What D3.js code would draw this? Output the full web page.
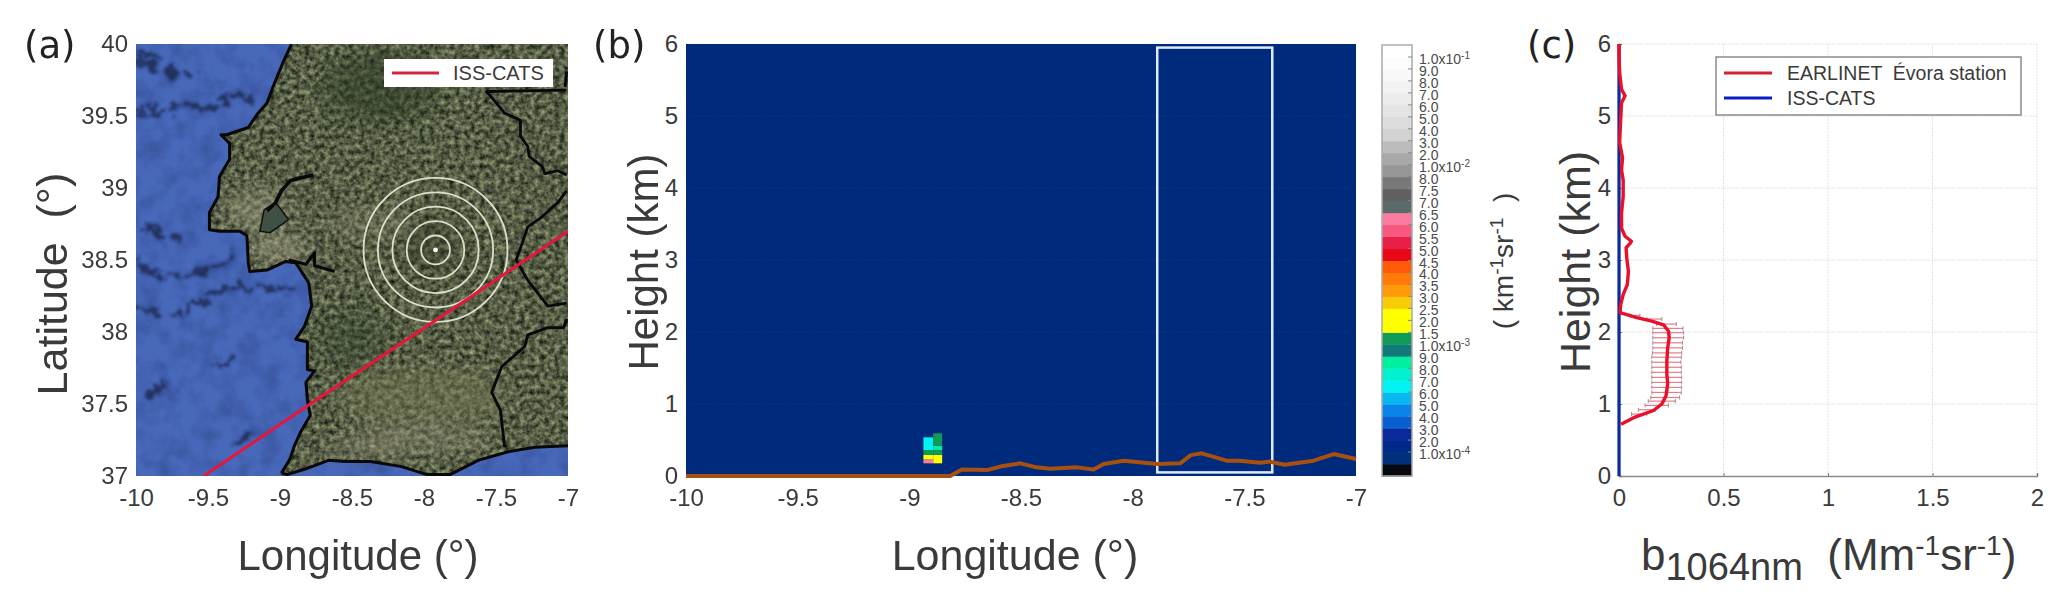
<!DOCTYPE html>
<html><head><meta charset="utf-8">
<script src="https://cdn.jsdelivr.net/npm/d3@7"></script>
<style>
html,body{margin:0;padding:0;background:#fff;overflow:hidden}
svg{display:block;font-family:"Liberation Sans",Arial,sans-serif}
</style></head><body>
<svg id="chart" width="2067" height="615"></svg>
<script>
// ---------- data ----------
const lonTicks=[-10,-9.5,-9,-8.5,-8,-7.5,-7];
const latTicks=[37,37.5,38,38.5,39,39.5,40];
const heightTicks=[0,1,2,3,4,5,6];
const backscatterTicks=[0,0.5,1,1.5,2];

const westCoast=[[-8.92,40],[-8.98,39.87],[-9.05,39.70],[-9.09,39.59],[-9.16,39.51],[-9.22,39.42],[-9.37,39.37],[-9.41,39.37],[-9.35,39.31],[-9.35,39.20],[-9.42,39.08],[-9.43,38.94],[-9.49,38.83],[-9.49,38.71],[-9.42,38.70],[-9.28,38.70],[-9.23,38.67],[-9.22,38.48],[-9.21,38.42],[-9.09,38.43],[-8.96,38.49],[-8.89,38.48],[-8.80,38.34],[-8.78,38.18],[-8.83,38.04],[-8.89,37.95],[-8.81,37.93],[-8.81,37.74],[-8.76,37.73],[-8.82,37.65],[-8.81,37.53],[-8.79,37.42],[-8.86,37.30],[-8.90,37.21],[-8.93,37.12],[-8.99,37.02]];
const southCoast=[[-8.99,37.02],[-8.95,37.01],[-8.82,37.05],[-8.66,37.11],[-8.55,37.10],[-8.37,37.10],[-8.155,37.065],[-7.98,37.01],[-7.82,37.01],[-7.62,37.11],[-7.41,37.17],[-7.23,37.2],[-7,37.21]];
const tagusRiver=[[-8.77,39.09],[-8.86,39.07],[-8.93,39.05],[-8.99,38.98],[-9.03,38.90],[-9.09,38.84]];
const tagusEstuary=[[-9.03,38.90],[-8.94,38.78],[-9.07,38.69],[-9.14,38.70],[-9.11,38.85]];
const sadoRiver=[[-8.94,38.50],[-8.82,38.47],[-8.76,38.55],[-8.76,38.46],[-8.62,38.42]];
const borderA=[[-7.01,39.68],[-7.565,39.67],[-7.44,39.52],[-7.33,39.47],[-7.33,39.36],[-7.28,39.29],[-7.27,39.22],[-7.18,39.15],[-7.16,39.10],[-7.07,39.12],[-7.01,39.09]];
const borderTop=[[-7.01,39.81],[-7.02,39.70]];
const borderB=[[-7.01,38.98],[-7.07,38.90],[-7.18,38.80],[-7.28,38.73],[-7.31,38.64],[-7.36,38.50],[-7.28,38.36],[-7.14,38.18],[-7.01,38.20]];
const borderC=[[-7.01,38.09],[-7.03,38.03],[-7.14,38.03],[-7.28,37.98],[-7.30,37.90],[-7.46,37.76],[-7.53,37.58],[-7.47,37.46],[-7.44,37.20]];
const swells=[[[-9.99,39.91],[-9.90,39.84],[-9.74,39.80],[-9.60,39.78]],[[-9.99,39.96],[-9.85,39.91]],[[-9.98,39.52],[-9.83,39.53],[-9.69,39.57],[-9.51,39.55],[-9.37,39.61],[-9.19,39.63]],[[-9.95,38.73],[-9.79,38.64],[-9.69,38.66]],[[-9.99,38.48],[-9.85,38.39],[-9.65,38.39],[-9.44,38.46],[-9.32,38.53]],[[-9.98,38.16],[-9.83,38.15],[-9.69,38.11],[-9.56,38.21],[-9.37,38.30],[-9.19,38.31],[-8.91,38.30]],[[-9.92,37.56],[-9.74,37.67]],[[-9.46,37.74],[-9.32,37.83]],[[-9.32,37.21],[-9.19,37.30]]];
const issTrack=[[-9.53,37],[-8.79,37.5],[-7.92,38.08],[-7.0,38.7]];
const stationLon=-7.92, stationLat=38.57;
const ringRadii=[0.1,0.2,0.3,0.4,0.5];

// terrain height under the track (lon, km)
const terrainLon=[-10,-8.817,-8.765,-8.65,-8.58,-8.504,-8.43,-8.37,-8.25,-8.175,-8.13,-8.04,-7.89,-7.787,-7.74,-7.69,-7.58,-7.52,-7.43,-7.385,-7.32,-7.19,-7.10,-7.0];
const terrainH=[0,0,.09,.083,.14,.176,.12,.10,.12,.09,.167,.213,.167,.176,.29,.315,.213,.213,.185,.2,.157,.213,.305,.236];
const windowLon=[-7.89,-7.375], windowH=[0.05,5.95];
const cellLon0=[-8.937,-8.937,-8.937,-8.937,-8.893,-8.893,-8.893,-8.893];
const cellLon1=[-8.893,-8.893,-8.893,-8.893,-8.853,-8.853,-8.853,-8.853];
const cellH0=[.176,.23,.292,.36,.176,.292,.36,.42];
const cellH1=[.23,.292,.36,.537,.292,.36,.42,.593];
const cellColor=[21,13,11,7,13,11,9,11];

// colour scale, bottom to top
const palette=["#08080f","#00307c","#002a8a","#0a2a9c","#0a60d0","#0a84e8","#08b8f0","#00f2f2","#00f0d0","#00f0a0","#0f7a78","#109a58","#ffff00","#ffff00","#f8cc08","#ff9a08","#ff7a08","#ff5a08","#e80818","#e82048","#f85880","#fa7aa0","#5a6a68","#606060","#787878","#969696","#a8a8a8","#bcbcbc","#d2d2d2","#dcdcdc","#e4e4e4","#ececec","#f2f2f2","#f8f8f8","#fcfcfc","#ffffff"];
const cbMantissa=["1.0","9.0","8.0","7.0","6.0","5.0","4.0","3.0","2.0","1.0","8.0","7.5","7.0","6.5","6.0","5.5","5.0","4.5","4.0","3.5","3.0","2.5","2.0","1.5","1.0","9.0","8.0","7.0","6.0","5.0","4.0","3.0","2.0","1.0"];
const cbExponent={0:"-1",9:"-2",24:"-3",33:"-4"};

// profiles
const earlinetH=[.72,.81,.91,1.0,1.115,1.28,1.41,1.6,1.78,1.92,2.01,2.1,2.15,2.2,2.27,2.38,2.52,2.66,2.84,3.03,3.17,3.23,3.26,3.33,3.44,3.65,3.88,4.11,4.25,4.42,4.63,4.95,5.18,5.28,5.37,5.6,5.87,6];
const earlinetB=[.01,.07,.165,.205,.225,.233,.229,.229,.233,.24,.237,.213,.157,.085,.005,.008,.02,.04,.045,.037,.034,.053,.059,.029,.012,.012,.02,.02,.012,.017,.003,.008,.012,.029,.012,.003,0,0];
const errH=[.86,.92,.98,1.04,1.09,1.16,1.23,1.30,1.37,1.44,1.51,1.58,1.65,1.71,1.78,1.85,1.92,1.99,2.05,2.11,2.18,2.23];
const errLo=[.06,.093,.125,.14,.152,.157,.157,.157,.157,.157,.157,.157,.157,.16,.162,.162,.162,.162,.162,.18,.133,.053];
const errHi=[.133,.173,.237,.27,.29,.298,.30,.30,.30,.298,.298,.296,.298,.30,.304,.304,.309,.309,.306,.274,.205,.10];
const issH=[0,6], issB=[0,0];

// ---------- layout ----------
const svg=d3.select("#chart");
const top_=44,bottom=476,tickFont=24,ink="#3a3a3a";
const defs=svg.append("defs");

function noiseFilter(id,freq,oct,seed,matrix){
  const f=defs.append("filter").attr("id",id).attr("x",0).attr("y",0).attr("width","100%").attr("height","100%").attr("color-interpolation-filters","sRGB");
  f.append("feTurbulence").attr("type","fractalNoise").attr("baseFrequency",freq).attr("numOctaves",oct).attr("seed",seed);
  f.append("feColorMatrix").attr("values",matrix);
}
noiseFilter("landTex",0.2,4,5,".72 0 0 0 -.02  .72 0 0 0 .01  .55 0 0 0 0  0 0 0 0 1");
noiseFilter("seaTex",0.05,4,9,"0 0 0 0 .12  0 0 0 0 .2  0 0 0 0 .42  1.4 0 0 0 -.55");
const rough=defs.append("filter").attr("id","rough").attr("x","-5%").attr("y","-5%").attr("width","110%").attr("height","110%");
rough.append("feTurbulence").attr("type","fractalNoise").attr("baseFrequency",0.09).attr("numOctaves",3).attr("seed",4).attr("result","n");
rough.append("feDisplacementMap").attr("in","SourceGraphic").attr("in2","n").attr("scale",22).attr("xChannelSelector","R").attr("yChannelSelector","G");
rough.append("feGaussianBlur").attr("stdDeviation",1.4);
defs.append("filter").attr("id","softer").append("feGaussianBlur").attr("stdDeviation",9);

function axes(g,x,y,xt,yt,line){
  const ax=g.append("g").attr("transform",`translate(0,${bottom})`).call(d3.axisBottom(x).tickValues(xt).tickSize(line?-3:0).tickPadding(13).tickFormat(String));
  const ay=g.append("g").attr("transform",`translate(${x.range()[0]},0)`).call(d3.axisLeft(y).tickValues(yt).tickSize(line?-3:0).tickPadding(8).tickFormat(String));
  [ax,ay].forEach(a=>{
    a.selectAll("text").attr("font-size",tickFont).attr("fill",ink).attr("font-family","Liberation Sans");
    a.selectAll("line").attr("stroke","#777");
    a.select(".domain").attr("stroke",line?"#8a8a8a":"none").attr("stroke-width",1.5);
  });
}
function panelLabel(t,xp){svg.append("text").attr("x",xp).attr("y",58).attr("font-family","DejaVu Sans").attr("font-size",37).attr("fill","#222").text(t);}
function xTitle(t,cx,size){svg.append("text").attr("x",cx).attr("y",570).attr("text-anchor","middle").attr("font-size",size).attr("fill",ink).text(t);}
function yTitle(t,xp,cy,size){svg.append("text").attr("transform",`translate(${xp},${cy}) rotate(-90)`).attr("text-anchor","middle").attr("font-size",size).attr("fill",ink).text(t);}

// ---------- panel a ----------
{
  const x=d3.scaleLinear().domain([-10,-7]).range([136,568]);
  const y=d3.scaleLinear().domain([37,40]).range([bottom,top_]);
  const line=d3.line().x(d=>x(d[0])).y(d=>y(d[1]));
  defs.append("clipPath").attr("id","clipA").append("rect").attr("x",136).attr("y",top_).attr("width",432).attr("height",bottom-top_);
  const landPts=westCoast.concat(southCoast.slice(1),[[-7,40]]);
  defs.append("clipPath").attr("id","clipLand").append("path").attr("d",line(landPts)+"Z");
  const g=svg.append("g").attr("clip-path","url(#clipA)");
  g.append("rect").attr("x",136).attr("y",top_).attr("width",432).attr("height",bottom-top_).attr("fill","#4868ba");
  g.append("rect").attr("x",136).attr("y",top_).attr("width",432).attr("height",bottom-top_).attr("filter","url(#seaTex)").attr("opacity",.5);
  g.append("g").attr("filter","url(#rough)").selectAll("path").data(swells).join("path").attr("d",line).attr("fill","none").attr("stroke","#16244c").attr("stroke-width",6).attr("stroke-dasharray","26 5 14 4").attr("opacity",.8);
  const land=g.append("g").attr("clip-path","url(#clipLand)");
  land.append("rect").attr("x",136).attr("y",top_).attr("width",432).attr("height",bottom-top_).attr("filter","url(#landTex)");
  const tint=land.append("g").attr("filter","url(#softer)");
  // lighter built-up and farm areas, darker forest
  [[-9.15,38.85,.22,.14,"#a8a488",.45],[-9.0,38.58,.2,.08,"#b0aa90",.55],[-8.4,38.75,.3,.1,"#908c70",.35],[-8.0,37.55,.6,.2,"#7c7c58",.45],[-8.0,37.25,.5,.08,"#a09a80",.4],[-8.3,39.7,.4,.25,"#2e3a24",.5],[-7.95,38.6,.2,.2,"#2e3a28",.4],[-8.5,37.95,.25,.2,"#2e3a24",.35],[-8.4,37.2,.3,.05,"#908c74",.5]]
    .forEach(e=>tint.append("ellipse").attr("cx",x(e[0])).attr("cy",y(e[1])).attr("rx",e[2]*144).attr("ry",e[3]*144).attr("fill",e[4]).attr("opacity",e[5]));
  g.append("path").attr("d",line(tagusEstuary)+"Z").attr("fill","#3f5044").attr("stroke","#111").attr("stroke-width",1.5);
  const blk=(d,w)=>g.append("path").attr("d",line(d)).attr("fill","none").attr("stroke","#08080a").attr("stroke-width",w).attr("stroke-linejoin","round");
  blk(westCoast,3);blk(southCoast,3);blk(tagusRiver,3.6);blk(sadoRiver,3.2);
  [borderA,borderTop,borderB,borderC].forEach(b=>blk(b,2.8));
  g.selectAll("circle.ring").data(ringRadii).join("circle").attr("class","ring")
    .attr("cx",x(stationLon)).attr("cy",y(stationLat)).attr("r",d=>x(-7)-x(-7-d))
    .attr("fill","none").attr("stroke","#dcdfcc").attr("stroke-width",1.8);
  g.append("circle").attr("cx",x(stationLon)).attr("cy",y(stationLat)).attr("r",2.4).attr("fill","#fff");
  g.append("path").attr("d",line(issTrack)).attr("fill","none").attr("stroke","#e8163c").attr("stroke-width",3);
  svg.append("rect").attr("x",384).attr("y",59).attr("width",169).attr("height",28).attr("fill","#fff");
  svg.append("line").attr("x1",392).attr("x2",439).attr("y1",73).attr("y2",73).attr("stroke","#d82340").attr("stroke-width",3);
  svg.append("text").attr("x",453).attr("y",80).attr("font-size",20).attr("fill",ink).text("ISS-CATS");
  axes(svg.append("g"),x,y,lonTicks,latTicks,false);
  panelLabel("(a)",24);
  xTitle("Longitude (°)",358,42);
  yTitle("Latitude\u00a0\u00a0(°)",67,284,43);
}

// ---------- panel b ----------
const colorOf=d3.scaleOrdinal().domain(d3.range(palette.length)).range(palette);
{
  const x=d3.scaleLinear().domain([-10,-7]).range([686,1356]);
  const y=d3.scaleLinear().domain([0,6]).range([bottom,top_]);
  const g=svg.append("g");
  g.append("rect").attr("x",686).attr("y",top_).attr("width",670).attr("height",bottom-top_).attr("fill","#002a7c");
  g.selectAll("line.g").data(heightTicks.slice(1,-1)).join("line").attr("class","g").attr("x1",690).attr("x2",1350).attr("y1",d=>y(d)).attr("y2",d=>y(d)).attr("stroke","#123a86").attr("stroke-dasharray","1 2");
  g.selectAll("rect.cell").data(d3.range(cellLon0.length)).join("rect").attr("class","cell")
    .attr("x",i=>x(cellLon0[i])).attr("width",i=>x(cellLon1[i])-x(cellLon0[i]))
    .attr("y",i=>y(cellH1[i])).attr("height",i=>y(cellH0[i])-y(cellH1[i])).attr("fill",i=>colorOf(cellColor[i]));
  g.append("rect").attr("x",x(windowLon[0])).attr("y",y(windowH[1])).attr("width",x(windowLon[1])-x(windowLon[0])).attr("height",y(windowH[0])-y(windowH[1]))
    .attr("fill","none").attr("stroke","#dfeaf6").attr("stroke-width",2.5);
  g.append("path").datum(d3.range(terrainLon.length))
    .attr("d",d3.line().x(i=>x(terrainLon[i])).y(i=>y(terrainH[i])))
    .attr("fill","none").attr("stroke","#a8500f").attr("stroke-width",4).attr("stroke-linejoin","round");
  axes(svg.append("g"),x,y,lonTicks,heightTicks,false);
  panelLabel("(b)",593);
  xTitle("Longitude (°)",1015,43);
  yTitle("Height (km)",658,262,42);
}

// ---------- colour bar ----------
{
  const cy=d3.scaleLinear().domain([0,palette.length]).range([bottom,45]);
  const g=svg.append("g");
  g.selectAll("rect").data(palette).join("rect").attr("x",1382).attr("width",30)
    .attr("y",(d,i)=>cy(i+1)).attr("height",(d,i)=>cy(i)-cy(i+1)+.5).attr("fill",d=>d);
  g.append("rect").attr("x",1382).attr("y",45).attr("width",30).attr("height",bottom-45).attr("fill","none").attr("stroke","#aaa").attr("stroke-width",1.5);
  const tickY=i=>cy(palette.length-1-i);
  g.selectAll("line").data(cbMantissa).join("line").attr("x1",1408).attr("x2",1412).attr("y1",(d,i)=>tickY(i)).attr("y2",(d,i)=>tickY(i)).attr("stroke","#888");
  const labels=g.selectAll("text").data(cbMantissa).join("text").attr("x",1419).attr("y",(d,i)=>tickY(i)+7).attr("font-size",14).attr("fill","#4a4a4a").text(d=>d);
  labels.each(function(d,i){
    if(cbExponent[i]){
      const t=d3.select(this);
      t.append("tspan").text("x10");
      t.append("tspan").attr("dy",-5).attr("font-size",10).text(cbExponent[i]);
    }
  });
  const title=svg.append("text").attr("transform","translate(1513,261) rotate(-90)").attr("text-anchor","middle").attr("font-size",28).attr("fill",ink);
  title.append("tspan").text("( km");
  title.append("tspan").attr("dy",-10).attr("font-size",19).text("-1");
  title.append("tspan").attr("dy",10).text("sr");
  title.append("tspan").attr("dy",-10).attr("font-size",19).text("-1");
  title.append("tspan").attr("dy",10).text("\u00a0\u00a0)");
}

// ---------- panel c ----------
{
  const x=d3.scaleLinear().domain([0,2]).range([1619,2037]);
  const y=d3.scaleLinear().domain([0,6]).range([bottom,top_]);
  const g=svg.append("g");
  g.selectAll("line.gx").data(backscatterTicks.slice(1)).join("line").attr("class","gx").attr("x1",d=>x(d)).attr("x2",d=>x(d)).attr("y1",top_).attr("y2",bottom).attr("stroke","#e2e2e2").attr("stroke-dasharray","2 1");
  g.selectAll("line.gy").data(heightTicks.slice(1)).join("line").attr("class","gy").attr("x1",1619).attr("x2",2037).attr("y1",d=>y(d)).attr("y2",d=>y(d)).attr("stroke","#e2e2e2").attr("stroke-dasharray","2 1");
  const idx=d3.range(errH.length);
  g.selectAll("line.e").data(idx).join("line").attr("class","e").attr("x1",i=>x(errLo[i])).attr("x2",i=>x(errHi[i])).attr("y1",i=>y(errH[i])).attr("y2",i=>y(errH[i])).attr("stroke","#e07f88").attr("stroke-width",1.2);
  [errLo,errHi].forEach((a,k)=>g.selectAll("line.c"+k).data(idx).join("line").attr("class","c"+k).attr("x1",i=>x(a[i])).attr("x2",i=>x(a[i])).attr("y1",i=>y(errH[i])-2).attr("y2",i=>y(errH[i])+2).attr("stroke","#aa8a8e").attr("stroke-width",1));
  axes(svg.append("g"),x,y,backscatterTicks,heightTicks,true);
  svg.append("path").datum(d3.range(issH.length)).attr("d",d3.line().x(i=>x(issB[i])).y(i=>y(issH[i]))).attr("fill","none").attr("stroke","#0b2a9e").attr("stroke-width",3.2);
  svg.append("path").datum(d3.range(earlinetH.length)).attr("d",d3.line().x(i=>x(earlinetB[i])).y(i=>y(earlinetH[i]))).attr("fill","none").attr("stroke","#e8102a").attr("stroke-width",3.4).attr("stroke-linejoin","round");
  const lg=svg.append("g");
  lg.append("rect").attr("x",1716).attr("y",57).attr("width",305).attr("height",58).attr("fill","#fff").attr("stroke","#8a8a8a").attr("stroke-width",1.5);
  [["EARLINET  Évora station","#d9202e",73],["ISS-CATS","#0a1ec8",98]].forEach(r=>{
    lg.append("line").attr("x1",1724).attr("x2",1772).attr("y1",r[2]).attr("y2",r[2]).attr("stroke",r[1]).attr("stroke-width",3);
    lg.append("text").attr("x",1787).attr("y",r[2]+7).attr("font-size",19.5).attr("fill",ink).style("white-space","pre").text(r[0]);
  });
  panelLabel("(c)",1527);
  yTitle("Height (km)",1590,262,43);
  const t=svg.append("text").attr("x",1641).attr("y",570).attr("font-size",44).attr("fill",ink);
  t.append("tspan").text("b");
  t.append("tspan").attr("dy",10).attr("font-size",38).text("1064nm");
  t.append("tspan").attr("dy",-10).text("\u00a0\u00a0(Mm");
  t.append("tspan").attr("dy",-15).attr("font-size",28).text("-1");
  t.append("tspan").attr("dy",15).text("sr");
  t.append("tspan").attr("dy",-15).attr("font-size",28).text("-1");
  t.append("tspan").attr("dy",15).text(")");
}
</script>
</body></html>
